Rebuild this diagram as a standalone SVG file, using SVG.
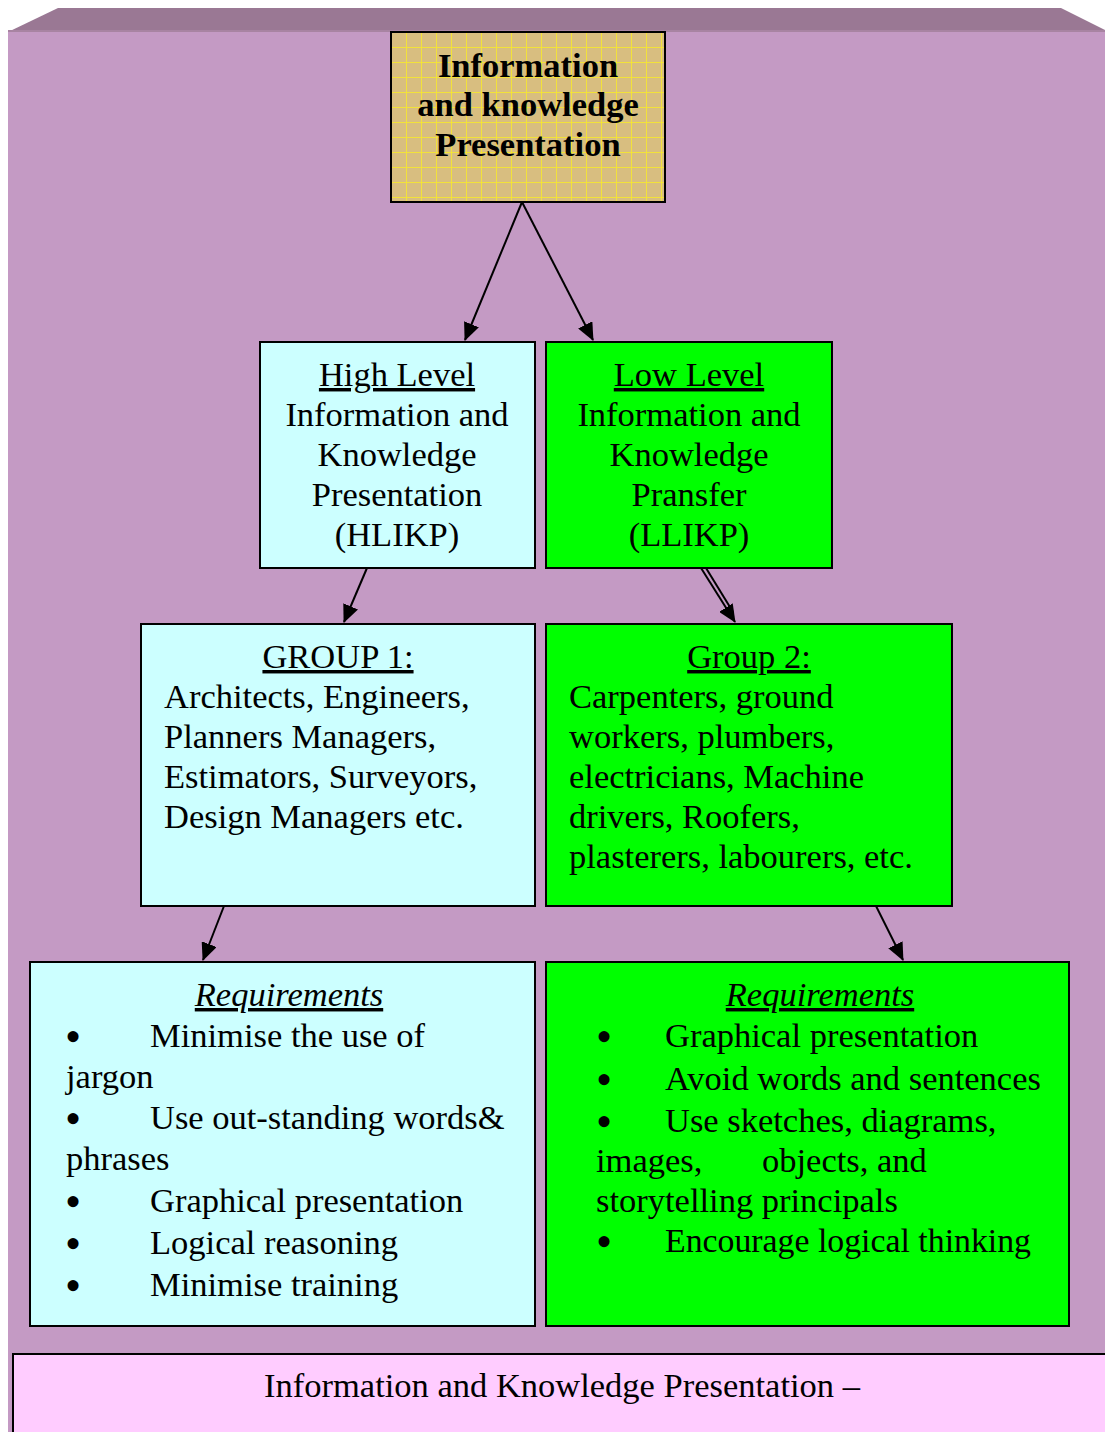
<svg xmlns="http://www.w3.org/2000/svg" width="1105" height="1432" viewBox="0 0 1105 1432">
<style>
  text { font-family: "Liberation Serif", "Times New Roman", serif; font-size: 34.5px; fill: #000; }
  .b { font-weight: bold; }
  .c { text-anchor: middle; }
  .u { text-decoration: underline; }
  .i { font-style: italic; }
  .bl { font-size: 46px; }
  .box { stroke: #000; stroke-width: 2; }
  .cyan { fill: #CCFFFF; }
  .green { fill: #00FF00; }
  .conn { stroke: #000; stroke-width: 2; fill: none; }
</style>
<defs>
  <pattern id="grid" x="391" y="32" width="15" height="15" patternUnits="userSpaceOnUse">
    <rect width="15" height="15" fill="#D8BE80"/>
    <path d="M0 0.5 H15 M0.5 0 V15" stroke="#F2E23A" stroke-width="1"/>
  </pattern>
  <marker id="ah" markerWidth="18" markerHeight="16" refX="17" refY="8" orient="auto" markerUnits="userSpaceOnUse">
    <path d="M0 0 L18 8 L0 16 Z" fill="#000"/>
  </marker>
</defs>

<g id="background">
  <rect x="8" y="32" width="1097" height="1400" fill="#C49AC4"/>
  <polygon points="58,8 1061,8 1105,30 1105,32 8,32" fill="#9A7894"/>
  <rect x="8" y="30" width="1097" height="2" fill="#A884A2"/>
</g>

<g id="connectors">
  <line class="conn" x1="522" y1="202" x2="465" y2="340" marker-end="url(#ah)"/>
  <line class="conn" x1="522" y1="202" x2="593" y2="340" marker-end="url(#ah)"/>
  <line class="conn" x1="367" y1="568" x2="344" y2="622" marker-end="url(#ah)"/>
  <line class="conn" x1="701" y1="568" x2="735" y2="622" marker-end="url(#ah)"/>
  <line class="conn" x1="706" y1="568" x2="733" y2="612"/>
  <line class="conn" x1="224" y1="906" x2="203" y2="960" marker-end="url(#ah)"/>
  <line class="conn" x1="876" y1="906" x2="903" y2="960" marker-end="url(#ah)"/>
</g>

<g id="top-node">
  <rect class="box" x="391" y="32" width="274" height="170" fill="url(#grid)"/>
  <text class="b c" x="528" y="77">Information</text>
  <text class="b c" x="528" y="116">and knowledge</text>
  <text class="b c" x="528" y="156">Presentation</text>
</g>

<g id="hlikp">
  <rect class="box cyan" x="260" y="342" width="275" height="226"/>
  <text class="c u" x="397" y="386">High Level</text>
  <text class="c" x="397" y="426">Information and</text>
  <text class="c" x="397" y="466">Knowledge</text>
  <text class="c" x="397" y="506">Presentation</text>
  <text class="c" x="397" y="546">(HLIKP)</text>
</g>

<g id="llikp">
  <rect class="box green" x="546" y="342" width="286" height="226"/>
  <text class="c u" x="689" y="386">Low Level</text>
  <text class="c" x="689" y="426">Information and</text>
  <text class="c" x="689" y="466">Knowledge</text>
  <text class="c" x="689" y="506">Pransfer</text>
  <text class="c" x="689" y="546">(LLIKP)</text>
</g>

<g id="group1">
  <rect class="box cyan" x="141" y="624" width="394" height="282"/>
  <text class="c u" x="338" y="668">GROUP 1:</text>
  <text x="164" y="708">Architects, Engineers,</text>
  <text x="164" y="748">Planners Managers,</text>
  <text x="164" y="788">Estimators, Surveyors,</text>
  <text x="164" y="828">Design Managers etc.</text>
</g>

<g id="group2">
  <rect class="box green" x="546" y="624" width="406" height="282"/>
  <text class="c u" x="749" y="668">Group 2:</text>
  <text x="569" y="708">Carpenters, ground</text>
  <text x="569" y="748">workers, plumbers,</text>
  <text x="569" y="788">electricians, Machine</text>
  <text x="569" y="828">drivers, Roofers,</text>
  <text x="569" y="868">plasterers, labourers, etc.</text>
</g>

<g id="req-left">
  <rect class="box cyan" x="30" y="962" width="505" height="364"/>
  <text class="c u i" x="289" y="1006">Requirements</text>
  <text y="1047"><tspan class="bl" x="65" dy="5">•</tspan><tspan x="150" dy="-5">Minimise the use of</tspan></text>
  <text x="66" y="1088">jargon</text>
  <text y="1129"><tspan class="bl" x="65" dy="5">•</tspan><tspan x="150" dy="-5">Use out-standing words&amp;</tspan></text>
  <text x="66" y="1170">phrases</text>
  <text y="1212"><tspan class="bl" x="65" dy="5">•</tspan><tspan x="150" dy="-5">Graphical presentation</tspan></text>
  <text y="1254"><tspan class="bl" x="65" dy="5">•</tspan><tspan x="150" dy="-5">Logical reasoning</tspan></text>
  <text y="1296"><tspan class="bl" x="65" dy="5">•</tspan><tspan x="150" dy="-5">Minimise training</tspan></text>
</g>

<g id="req-right">
  <rect class="box green" x="546" y="962" width="523" height="364"/>
  <text class="c u i" x="820" y="1006">Requirements</text>
  <text y="1047"><tspan class="bl" x="596" dy="5">•</tspan><tspan x="665" dy="-5">Graphical presentation</tspan></text>
  <text y="1090"><tspan class="bl" x="596" dy="5">•</tspan><tspan x="665" dy="-5">Avoid words and sentences</tspan></text>
  <text y="1132"><tspan class="bl" x="596" dy="5">•</tspan><tspan x="665" dy="-5">Use sketches, diagrams,</tspan></text>
  <text y="1172"><tspan x="596">images,</tspan><tspan x="762">objects, and</tspan></text>
  <text x="596" y="1212">storytelling principals</text>
  <text y="1252"><tspan class="bl" x="596" dy="5">•</tspan><tspan x="665" dy="-5" textLength="366" lengthAdjust="spacingAndGlyphs">Encourage logical thinking</tspan></text>
</g>

<g id="caption">
  <rect class="box" x="13" y="1354" width="1100" height="90" fill="#FFCCFF"/>
  <text class="c" x="562" y="1397">Information and Knowledge Presentation –</text>
</g>
</svg>
